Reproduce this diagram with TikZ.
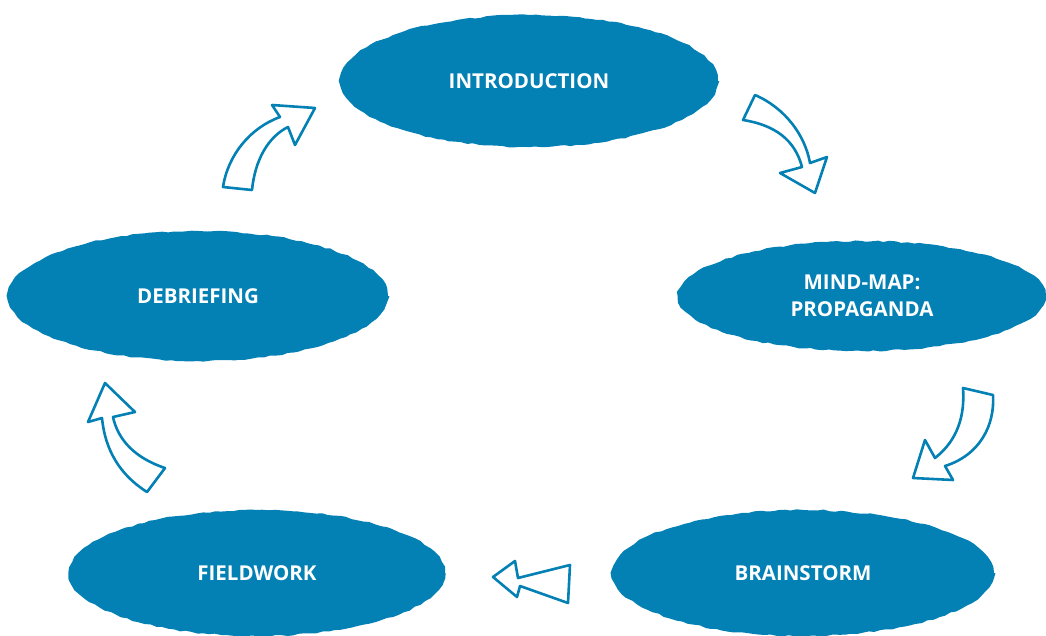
\documentclass[tikz,border=0pt]{standalone}
\usepackage{fontspec}
\setmainfont{Open Sans}
\usetikzlibrary{shapes.geometric,decorations.pathmorphing}
\definecolor{cycleblue}{HTML}{0380B4}

\begin{document}
\begin{tikzpicture}[x=1pt,y=-1pt,
  stage/.style = {ellipse, fill = cycleblue, inner sep = 0pt, text = white, font = \bfseries\fontsize{20.5}{27}\selectfont, align = center, decorate, decoration = {random steps, segment length = 6pt, amplitude = 0.8pt}},
  turn/.style = {draw = cycleblue, fill = white, line width = 2.6pt, line join = round, line cap = round},]
\useasboundingbox (0,0) rectangle (1046,635);
\node (intro) at (529,81)[stage,minimum width = 378pt,minimum height = 132pt] {INTRODUCTION};
\node (mindmap) at (862,296)[stage,minimum width = 368pt,minimum height = 110pt] {MIND-MAP:\\PROPAGANDA};
\node (brain) at (803,573)[stage,minimum width = 382pt,minimum height = 126pt] {BRAINSTORM};
\node (field) at (257,573)[stage,minimum width = 376pt,minimum height = 126pt] {FIELDWORK};
\node (debrief) at (198,296)[stage,minimum width = 380pt,minimum height = 130pt] {DEBRIEFING};
% arrows between the stages
\draw[turn] (223,187) .. controls (228,155) and (250,128) .. (280,117) -- (272,105) -- (315,108) -- (295,145) -- (288,127) .. controls (268,137) and (255,160) .. (252,190) -- cycle;
\draw[turn] (755,95) .. controls (785,108) and (805,135) .. (810,163) -- (827,157) -- (815,193) -- (780,173) -- (802,167) .. controls (795,140) and (775,125) .. (743,120) -- cycle;
\draw[turn] (963,388) -- (993,395) .. controls (995,425) and (980,455) .. (945,466) -- (953,480) -- (913,478) -- (925,440) -- (935,458) .. controls (958,440) and (965,415) .. (963,388) -- cycle;
\draw[turn] (570,565) -- (518,578) -- (515,561) -- (493,577) -- (517,597) -- (520,586) -- (568,603) -- cycle;
\draw[turn] (147,492) .. controls (120,475) and (105,450) .. (102,418) -- (88,422) -- (105,383) -- (135,412) -- (113,417) .. controls (118,440) and (135,458) .. (165,468) -- cycle;
\end{tikzpicture}
\end{document}
